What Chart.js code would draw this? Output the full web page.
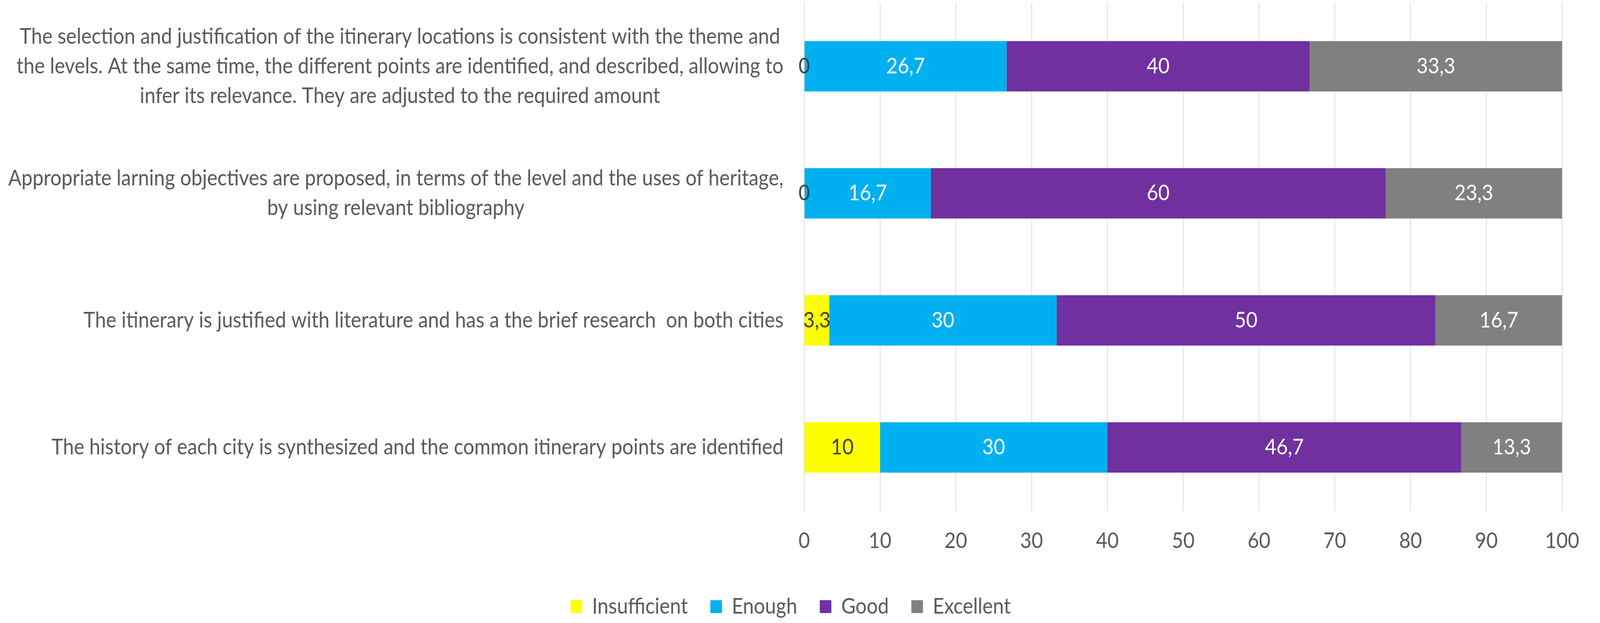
<!DOCTYPE html>
<html>
<head>
<meta charset="utf-8">
<script src="https://cdn.jsdelivr.net/npm/chart.js@4.4.1/dist/chart.umd.min.js"></script>
<style>
  html, body { margin: 0; padding: 0; background: #ffffff; overflow: hidden; }
</style>
</head>
<body>
<canvas id="c" width="4550" height="1596" style="width:100vw;height:100vh;display:block;"></canvas>
<script>
const categories = [
  ["The selection and justification of the itinerary locations is consistent with the theme and",
   "the levels. At the same time, the different points are identified, and described, allowing to",
   "infer its relevance. They are adjusted to the required amount"],
  ["Appropriate larning objectives are proposed, in terms of the level and the uses of heritage,",
   "by using relevant bibliography"],
  ["The itinerary is justified with literature and has a the brief research  on both cities"],
  ["The history of each city is synthesized and the common itinerary points are identified"]
];
const seriesNames = ["Insufficient", "Enough", "Good", "Excellent"];
const insufficient = [0, 0, 3.3, 10];
const enough = [26.7, 16.7, 30, 30];
const good = [40, 60, 50, 46.7];
const excellent = [33.3, 23.3, 16.7, 13.3];
const xTicks = [0, 10, 20, 30, 40, 50, 60, 70, 80, 90, 100];

const colors = ["#FFFF00", "#00B0F0", "#7030A0", "#808080"];
const labelColors = ["#404040", "#FFFFFF", "#FFFFFF", "#FFFFFF"];
const FONT = "Lato";
const FS = 56;
const TEXT = "#595959";

const catLabelPlugin = {
  id: "catLabels",
  afterDraw(chart) {
    const ctx = chart.ctx;
    const yScale = chart.scales.y;
    ctx.save();
    ctx.font = FS + "px " + FONT;
    ctx.fillStyle = TEXT;
    ctx.textBaseline = "middle";
    ctx.textAlign = "center";
    const rightEdge = chart.chartArea.left - 59;
    const lh = 76;
    categories.forEach((lines, i) => {
      const yc = yScale.getPixelForValue(i);
      let w = 0;
      lines.forEach(l => { w = Math.max(w, ctx.measureText(l).width); });
      const xc = rightEdge - w / 2;
      const y0 = yc - (lines.length - 1) * lh / 2;
      lines.forEach((l, k) => ctx.fillText(l, xc, y0 + k * lh));
    });
    ctx.restore();
  }
};

const valueLabelPlugin = {
  id: "valueLabels",
  afterDatasetsDraw(chart) {
    const ctx = chart.ctx;
    ctx.save();
    ctx.font = FS + "px " + FONT;
    ctx.textAlign = "center";
    ctx.textBaseline = "middle";
    chart.data.datasets.forEach((ds, di) => {
      const meta = chart.getDatasetMeta(di);
      meta.data.forEach((bar, i) => {
        const v = ds.data[i];
        const p = bar.getProps(["x", "y", "base"], true);
        ctx.fillStyle = labelColors[di];
        ctx.fillText(String(v).replace(".", ","), (p.x + p.base) / 2, p.y);
      });
    });
    ctx.restore();
  }
};

const seriesData = [insufficient, enough, good, excellent];

new Chart(document.getElementById("c"), {
  type: "bar",
  data: {
    labels: categories.map(c => c.join(" ")),
    datasets: seriesNames.map((n, i) => ({
      label: n,
      data: seriesData[i],
      backgroundColor: colors[i],
      borderWidth: 0,
      categoryPercentage: 1,
      barPercentage: 0.397
    }))
  },
  options: {
    indexAxis: "y",
    responsive: false,
    devicePixelRatio: 1,
    animation: false,
    layout: { padding: { top: 7, right: 53, left: 0, bottom: 4 } },
    scales: {
      x: {
        stacked: true,
        min: 0, max: 100,
        afterBuildTicks(scale) { scale.ticks = xTicks.map(v => ({ value: v })); },
        grid: { color: "#D9D9D9", lineWidth: 2, drawTicks: false },
        border: { display: false },
        ticks: { color: TEXT, font: { family: FONT, size: FS, lineHeight: 0.625 }, padding: 59 }
      },
      y: {
        stacked: true,
        grid: { display: false },
        border: { display: false },
        ticks: { display: false },
        afterFit(scale) { scale.width = 2287; }
      }
    },
    plugins: {
      legend: {
        position: "bottom",
        labels: {
          color: TEXT,
          font: { family: FONT, size: FS },
          boxWidth: 33, boxHeight: 33,
          padding: 64
        }
      },
      tooltip: { enabled: false }
    }
  },
  plugins: [catLabelPlugin, valueLabelPlugin]
});
</script>
</body>
</html>
